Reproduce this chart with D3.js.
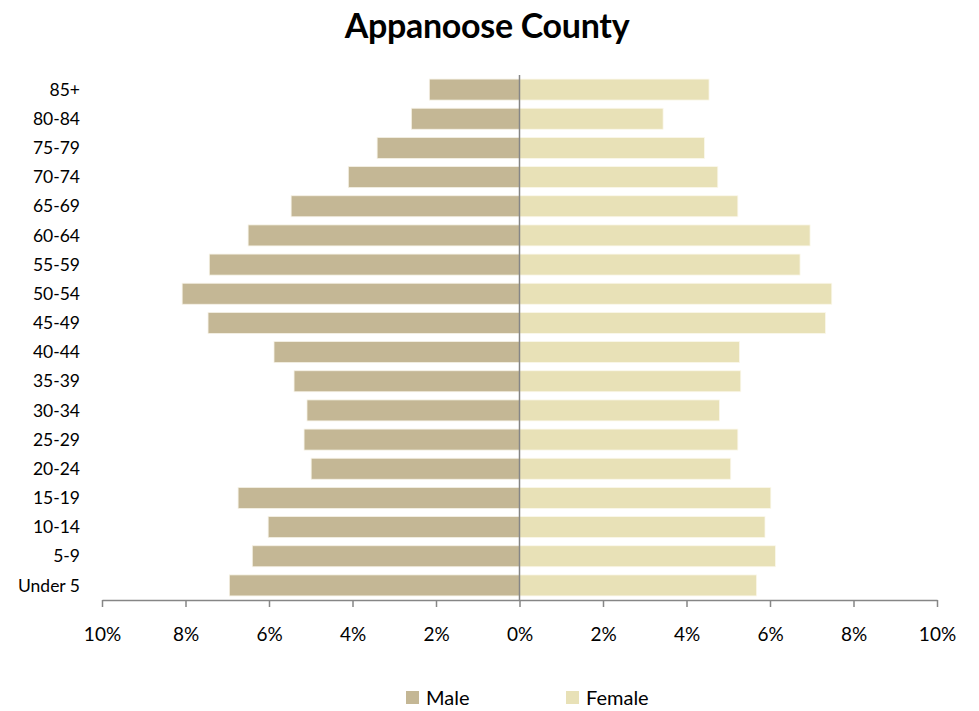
<!DOCTYPE html>
<html>
<head>
<meta charset="utf-8">
<script src="https://cdn.jsdelivr.net/npm/d3@7/dist/d3.min.js"></script>
<style>
  body { margin: 0; background: #fff; }
  svg { display: block; font-family: Lato, "Open Sans", sans-serif; }
</style>
</head>
<body>
<svg id="chart" width="979" height="711"></svg>
<script>
'use strict';

// age groups, top to bottom
var ageGroups = ['85+', '80-84', '75-79', '70-74', '65-69', '60-64', '55-59', '50-54',
  '45-49', '40-44', '35-39', '30-34', '25-29', '20-24', '15-19', '10-14', '5-9', 'Under 5'];

// percent of population
var maleValues = [2.16, 2.59, 3.41, 4.10, 5.47, 6.50, 7.43, 8.08,
  7.46, 5.88, 5.40, 5.09, 5.16, 4.99, 6.74, 6.02, 6.40, 6.95];
var femaleValues = [4.54, 3.44, 4.43, 4.75, 5.23, 6.96, 6.72, 7.48,
  7.33, 5.27, 5.30, 4.79, 5.23, 5.06, 6.02, 5.88, 6.13, 5.68];

var xTicks = [-10, -8, -6, -4, -2, 0, 2, 4, 6, 8, 10];
var seriesNames = ['Male', 'Female'];
var seriesColors = ['#c4b795', '#e8e1b7'];

var svg = d3.select('#chart');

var x = d3.scaleLinear().domain([-10, 10]).range([102, 937]);
var y = d3.scaleBand().domain(ageGroups).range([75, 600])
  .paddingInner(0.28).paddingOuter(0.14);

function translate(tx, ty) {
  return 'translate(' + tx + ', ' + ty + ')';
}

// title
svg.append('text')
  .attr('x', 487)
  .attr('y', 38)
  .attr('text-anchor', 'middle')
  .style('font-size', '34px')
  .style('font-weight', 'bold')
  .style('letter-spacing', '-0.3px')
  .text('Appanoose County');

// bars
var rows = ageGroups.map(function (g, i) {
  return { group: g, male: maleValues[i], female: femaleValues[i] };
});

svg.append('g').selectAll('rect')
  .data(rows)
  .enter()
  .append('rect')
  .attr('x', function (d) { return x(-d.male); })
  .attr('y', function (d) { return y(d.group); })
  .attr('width', function (d) { return x(0) - x(-d.male); })
  .attr('height', y.bandwidth())
  .attr('fill', seriesColors[0])
  .attr('stroke', '#f6f2e6')
  .attr('stroke-width', 0.8);

svg.append('g').selectAll('rect')
  .data(rows)
  .enter()
  .append('rect')
  .attr('x', x(0))
  .attr('y', function (d) { return y(d.group); })
  .attr('width', function (d) { return x(d.female) - x(0); })
  .attr('height', y.bandwidth())
  .attr('fill', seriesColors[1])
  .attr('stroke', '#fbf8ec')
  .attr('stroke-width', 0.8);

// center line
svg.append('line')
  .attr('x1', x(0)).attr('x2', x(0))
  .attr('y1', 75).attr('y2', 600)
  .attr('stroke', '#868686')
  .attr('stroke-width', 1.5);

// x axis
var xAxis = d3.axisBottom(x)
  .tickValues(xTicks)
  .tickSize(7)
  .tickSizeOuter(0)
  .tickPadding(21)
  .tickFormat(function (d) { return Math.abs(d) + '%'; });

var gx = svg.append('g')
  .attr('transform', translate(0, 600))
  .call(xAxis);
gx.select('.domain').attr('stroke', '#868686').attr('stroke-width', 1.5);
gx.selectAll('.tick line').attr('stroke', '#868686').attr('stroke-width', 1.5);
gx.selectAll('.tick text')
  .attr('fill', '#000')
  .style('font-family', 'Lato, sans-serif')
  .style('font-size', '19px');

// y labels
svg.append('g').selectAll('text')
  .data(ageGroups)
  .enter()
  .append('text')
  .attr('x', 80)
  .attr('y', function (d) { return y(d) + y.bandwidth() / 2; })
  .attr('dy', '0.35em')
  .attr('text-anchor', 'end')
  .style('font-size', '17.5px')
  .text(function (d) { return d; });

// legend
var legendX = [406, 566];
var legend = svg.append('g').selectAll('g')
  .data(seriesNames)
  .enter()
  .append('g')
  .attr('transform', function (d, i) { return translate(legendX[i], 691); });

legend.append('rect')
  .attr('width', 13)
  .attr('height', 13)
  .attr('fill', function (d, i) { return seriesColors[i]; });

legend.append('text')
  .attr('x', 20)
  .attr('y', 14)
  .style('font-size', '20px')
  .text(function (d) { return d; });
</script>
</body>
</html>
